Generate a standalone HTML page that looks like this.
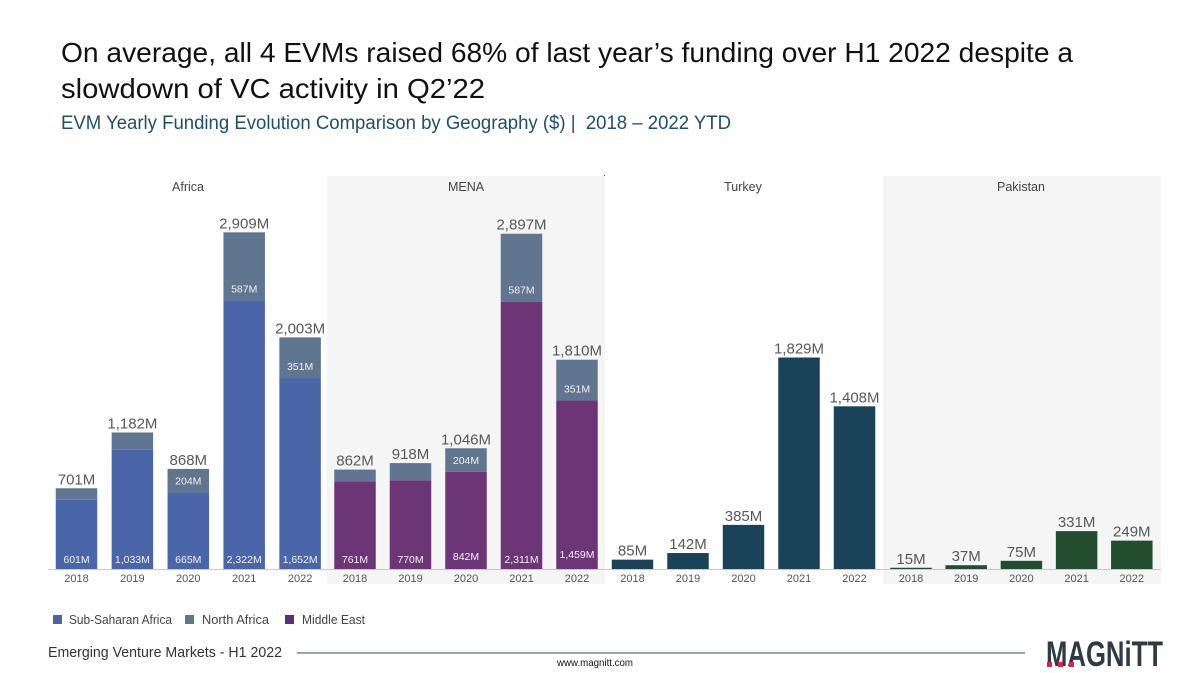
<!DOCTYPE html>
<html lang="en">
<head>
<meta charset="utf-8">
<title>EVM Yearly Funding Evolution</title>
<style>
html,body{margin:0;padding:0;background:#fff;width:1200px;height:673px;overflow:hidden}
svg{display:block;font-family:"Liberation Sans",sans-serif}
</style>
</head>
<body>
<svg id="chart" xmlns="http://www.w3.org/2000/svg" width="1200" height="673" viewBox="0 0 1200 673">
  <text x="61" y="62" font-size="28" fill="#111" textLength="1012" lengthAdjust="spacingAndGlyphs">On average, all 4 EVMs raised 68% of last year’s funding over H1 2022 despite a</text>
  <text x="61" y="98" font-size="28" fill="#111" textLength="424" lengthAdjust="spacingAndGlyphs">slowdown of VC activity in Q2’22</text>
  <text x="61" y="129" font-size="19" fill="#1f4e6b" textLength="670" lengthAdjust="spacingAndGlyphs" xml:space="preserve">EVM Yearly Funding Evolution Comparison by Geography ($) |  2018 – 2022 YTD</text>

  <rect x="327" y="176" width="278" height="408" fill="#f5f5f6"/>
  <rect x="883" y="176" width="278" height="408" fill="#f5f5f6"/>
  <rect x="604" y="175" width="1" height="1" fill="#555"/>

  <g id="marks"></g>

  <line x1="48" y1="569.5" x2="1161" y2="569.5" stroke="#c9c9c9" stroke-width="1"/>

  <g>
    <rect x="53" y="615" width="9" height="9" fill="#4a66a8"/>
    <text x="69" y="624" font-size="12.5" fill="#444" textLength="103" lengthAdjust="spacingAndGlyphs">Sub-Saharan Africa</text>
    <rect x="185" y="615" width="9" height="9" fill="#60758f"/>
    <text x="202" y="624" font-size="12.5" fill="#444" textLength="67" lengthAdjust="spacingAndGlyphs">North Africa</text>
    <rect x="285" y="615" width="9" height="9" fill="#5f2d74"/>
    <text x="302" y="624" font-size="12.5" fill="#444" textLength="63" lengthAdjust="spacingAndGlyphs">Middle East</text>
  </g>

  <text x="48" y="657" font-size="14.5" fill="#333" textLength="234" lengthAdjust="spacingAndGlyphs">Emerging Venture Markets - H1 2022</text>
  <line x1="297" y1="653" x2="1025" y2="653" stroke="#7f8a8c" stroke-width="1.5"/>
  <text x="557" y="666" font-size="10.5" fill="#111" textLength="76" lengthAdjust="spacingAndGlyphs">www.magnitt.com</text>

  <g>
    <text x="1046" y="666" font-size="35" font-weight="700" fill="#2f3a45" textLength="117" lengthAdjust="spacingAndGlyphs">MAGNiTT</text>
    <rect x="1047" y="662" width="5" height="5" fill="#d9254c"/>
    <rect x="1058" y="662" width="5" height="5" fill="#d9254c"/>
    <rect x="1069" y="662" width="5" height="5" fill="#d9254c"/>
  </g>
</svg>
<script>
var years = ['2018', '2019', '2020', '2021', '2022'];

var africaLower = [601, 1033, 665, 2322, 1652];
var africaUpper = [100, 149, 203, 587, 351];
var africaUpperLabels = ['', '', '204M', '587M', '351M'];

var menaLower = [761, 770, 842, 2311, 1459];
var menaUpper = [101, 148, 204, 586, 351];
var menaUpperLabels = ['', '', '204M', '587M', '351M'];

var turkeyValues = [85, 142, 385, 1829, 1408];
var pakistanValues = [15, 37, 75, 331, 249];

var NS = 'http://www.w3.org/2000/svg';
var layer = document.getElementById('marks');
var BASE_Y = 569.5;
var PX_PER_M = 0.1159;
var BAND = 41.5;

function yScale(v) { return BASE_Y - v * PX_PER_M; }
function xCenter(panel, i) { return panel.first + i * panel.step; }
function fmt(v) { return v.toLocaleString('en-US') + 'M'; }

function rect(x, y, w, h, fill, name) {
  var el = document.createElementNS(NS, 'rect');
  el.setAttribute('x', x);
  el.setAttribute('y', y);
  el.setAttribute('width', w);
  el.setAttribute('height', h);
  el.setAttribute('fill', fill);
  
  
  layer.appendChild(el);
}
function label(x, y, str, size, fill, name) {
  var el = document.createElementNS(NS, 'text');
  el.setAttribute('x', x);
  el.setAttribute('y', y);
  el.setAttribute('font-size', size);
  el.setAttribute('fill', fill);
  el.setAttribute('text-anchor', 'middle');
  el.textContent = str;
  
  
  layer.appendChild(el);
}

var panels = [
  {key: 'africa', title: 'Africa', cx: 188, first: 76.5, step: 55.9, lower: africaLower, upper: africaUpper, upperLabels: africaUpperLabels, lowerColor: '#4a66a8'},
  {key: 'mena', title: 'MENA', cx: 466, first: 355, step: 55.5, lower: menaLower, upper: menaUpper, upperLabels: menaUpperLabels, lowerColor: '#6b3576', lift: {2: 3, 4: 5}},
  {key: 'turkey', title: 'Turkey', cx: 743, first: 632.5, step: 55.5, lower: turkeyValues, lowerColor: '#1a4259'},
  {key: 'pakistan', title: 'Pakistan', cx: 1021, first: 911, step: 55.2, lower: pakistanValues, lowerColor: '#234d2f'}
];

panels.forEach(function (p) {
  label(p.cx, 191, p.title, 12.5, '#444', p.key + '-panel-title');
  years.forEach(function (yr, i) {
    var cx = xCenter(p, i);
    var x = cx - BAND / 2;
    var low = p.lower[i];
    var up = p.upper ? p.upper[i] : 0;
    var total = low + up;
    var yLow = yScale(low);
    rect(x, yLow, BAND, BASE_Y - yLow, p.lowerColor, p.key + '-bar-lower-' + yr);
    if (p.upper) {
      var yTop = yScale(total);
      var lift = (p.lift && p.lift[i]) || 0;
      rect(x, yTop, BAND, yLow - yTop, '#60758f', p.key + '-bar-upper-' + yr);
      label(cx, 563 - lift, fmt(low), 10.5, '#f2f2f2', p.key + '-lower-value-' + yr);
      if (p.upperLabels[i]) {
        label(cx, yLow - 8, p.upperLabels[i], 10.5, '#f2f2f2', p.key + '-upper-value-' + yr);
      }
    }
    label(cx, yScale(total) - 4, fmt(total), 15, '#585858', p.key + '-total-value-' + yr);
    label(cx, 582, yr, 11, '#555', p.key + '-year-label-' + yr);
  });
});
</script>
</body>
</html>
